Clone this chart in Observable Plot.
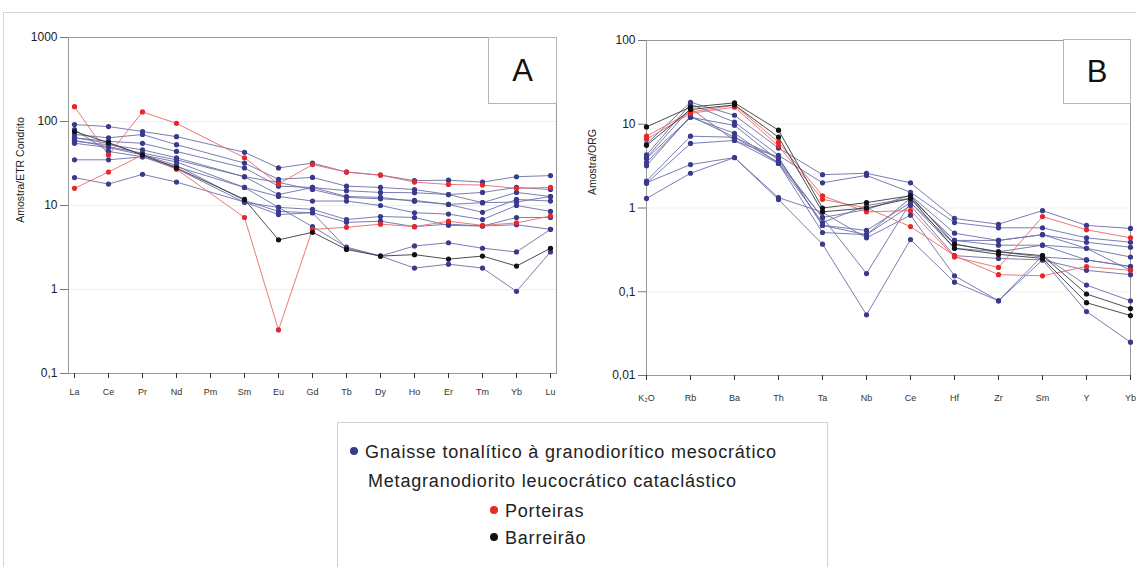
<!DOCTYPE html>
<html>
<head>
<meta charset="utf-8">
<script src="https://cdn.jsdelivr.net/npm/d3@7"></script>
<script src="https://cdn.jsdelivr.net/npm/@observablehq/plot@0.6"></script>
<style>
  html, body { margin: 0; padding: 0; background: #fff; }
  body { width: 1136px; height: 567px; position: relative; overflow: hidden; font-family: "Liberation Sans", Arial, sans-serif; }
  #frame { position: absolute; left: 3px; top: 12px; width: 1135px; height: 600px; border: 1px solid #d4d4d4; box-sizing: border-box; }
  .chart { position: absolute; top: 0; }
  .chart svg { font-family: "Liberation Sans", Arial, sans-serif; overflow: visible; }
  .panel { position: absolute; border: 1px solid #b5b5b5; background: #fff; font-size: 31px; color: #111; display: flex; align-items: center; justify-content: center; box-sizing: border-box; }
  .ylab { position: absolute; font-size: 10.5px; color: #222; transform: translate(-50%, -50%) rotate(-90deg); white-space: nowrap; }
  #legend { position: absolute; left: 337px; top: 422px; width: 491px; height: 160px; border: 1px solid #d0d0d0; box-sizing: border-box; color: #222; }
  .li { position: absolute; white-space: nowrap; font-size: 18px; letter-spacing: 0.8px; line-height: 20px; }
  .dot { display: inline-block; width: 8px; height: 8px; border-radius: 50%; margin-right: 7px; vertical-align: 3px; }
</style>
</head>
<body>
<div id="frame"></div>
<div id="chartA" class="chart" style="left:0px"></div>
<div id="chartB" class="chart" style="left:578px"></div>
<div class="panel" style="left:488px; top:37px; width:69px; height:67px;">A</div>
<div class="panel" style="left:1063px; top:39px; width:68px; height:65px;">B</div>
<div class="ylab" style="left:20px; top:170px;">Amostra/ETR Condrito</div>
<div class="ylab" style="left:592px; top:162px;">Amostra/ORG</div>
<div id="legend">
  <div class="li" style="left:12px; top:19px;"><span class="dot" style="background:#3a3a8c"></span>Gnaisse tonalítico à granodiorítico mesocrático</div>
  <div class="li" style="left:30px; top:48px;">Metagranodiorito leucocrático cataclástico</div>
  <div class="li" style="left:152px; top:78px;"><span class="dot" style="background:#e8272a"></span>Porteiras</div>
  <div class="li" style="left:152px; top:105px;"><span class="dot" style="background:#111"></span>Barreirão</div>
</div>
<script>
// ---------- Diagram A: REE normalised to chondrite ----------
const elementsA = ["La","Ce","Pr","Nd","Pm","Sm","Eu","Gd","Tb","Dy","Ho","Er","Tm","Yb","Lu"];
// Gnaisse tonalítico à granodiorítico mesocrático (null = not analysed)
const gnaisseA = [
  [92, 87, 76, 66, null, 43, 28, 32, 25, 23, 19.8, 20, 19, 22, 22.7],
  [70, 64, 70, 53, null, 32, 20.5, 21.6, 17, 16.4, 15.5, 13.5, 14.3, 16.4, 15.5],
  [64, 58, 55, 44, null, 28, 17, 16.4, 15, 14.3, 14.2, 13.5, 10.8, 14.3, 12.8],
  [58, 53, 46, 37, null, 22, 13.5, 16.4, 12.8, 12.5, 11.2, 10.3, 8.3, 11.8, 11.3],
  [60, 50, 42, 35, null, 22, 18.8, 15.5, 12.5, 12, 11.5, 10.3, 10.8, 11, 12.8],
  [55, 49, 40, 33, null, 16.4, 12.8, 11.3, 11.3, 10, 8.2, 7.9, 6.8, 10, 8.5],
  [35, 35, 38, 29, null, 16.4, 9.5, 9.0, 6.8, 7.4, 7.2, 5.8, 5.7, 7.2, 7.2],
  [21.5, 18, 23.5, 19, null, 11, 7.8, 8.2, 6.3, 6.5, 5.6, 6.0, 5.7, 5.9, 5.2],
  [80, 44, 38, 27.5, null, 10.9, 9.5, 5.6, 3.2, 2.5, 3.3, 3.6, 3.1, 2.8, 5.2],
  [64, 55, 40, 30, null, 11.5, 8.5, 8.2, 3.1, 2.5, 1.8, 2.0, 1.8, 0.95, 2.8]
];
// Metagranodiorito leucocrático cataclástico – Porteiras
const porteirasA = [
  [150, 40, 130, 95, null, 37, 18, 30.7, 25, 23, 19, 17.8, 17.5, 16, 16.4],
  [16, 25, 40, 27, null, 7.2, 0.33, 5.2, 5.5, 6.0, 5.6, 6.5, 5.8, 6.2, 7.5]
];
// Metagranodiorito leucocrático cataclástico – Barreirão
const barreiraoA = [
  [76, 56, 40, 28, null, 11.8, 3.9, 4.8, 3.0, 2.5, 2.6, 2.3, 2.5, 1.9, 3.1]
];
const ticksA = [0.1, 1, 10, 100, 1000];

// ---------- Diagram B: normalised to ORG ----------
const elementsB = ["K₂O","Rb","Ba","Th","Ta","Nb","Ce","Hf","Zr","Sm","Y","Yb"];
const gnaisseB = [
  [5.8, 18.3, 12.8, 5.2, 2.5, 2.6, 2.0, 0.75, 0.64, 0.93, 0.62, 0.57],
  [4.3, 17.4, 10.6, 4.25, 2.0, 2.45, 1.54, 0.67, 0.58, 0.58, 0.44, 0.39],
  [3.9, 12.1, 9.7, 3.7, 0.77, 0.96, 1.42, 0.5, 0.41, 0.48, 0.39, 0.34],
  [3.5, 12.1, 7.8, 3.4, 0.67, 1.07, 1.31, 0.41, 0.36, 0.36, 0.33, 0.26],
  [2.1, 7.2, 7.0, 4.0, 0.62, 0.54, 1.16, 0.33, 0.3, 0.26, 0.24, 0.2],
  [1.97, 5.9, 6.4, 3.4, 0.51, 0.48, 1.07, 0.27, 0.25, 0.24, 0.18, 0.16],
  [1.3, 2.6, 4.0, 1.33, 0.89, 0.44, 0.82, 0.155, 0.078, 0.27, 0.12, 0.078],
  [2.0, 3.3, 4.0, 1.26, 0.37, 0.053, 0.42, 0.13, 0.078, 0.24, 0.058, 0.025],
  [3.2, 12.5, 7.0, 3.5, 0.77, 0.165, 1.16, 0.37, 0.3, 0.36, 0.24, 0.2],
  [4.0, 15.5, 6.4, 4.0, 0.62, 0.48, 1.31, 0.41, 0.41, 0.48, 0.33, 0.18]
];
const porteirasB = [
  [7.2, 14, 16.9, 6.1, 1.4, 0.9, 0.93, 0.26, 0.195, 0.79, 0.55, 0.44],
  [6.6, 13.5, 16, 5.5, 1.27, 1.0, 0.6, 0.27, 0.16, 0.155, 0.2, 0.18]
];
const barreiraoB = [
  [9.3, 16, 18, 8.5, 1.0, 1.16, 1.4, 0.37, 0.3, 0.27, 0.094, 0.063],
  [5.6, 15, 17, 7.0, 0.9, 1.0, 1.3, 0.33, 0.28, 0.25, 0.074, 0.052]
];
const ticksB = [0.01, 0.1, 1, 10, 100];

// ---------- styles per group ----------
const groups = [
  {key: "Gnaisse", line: "#6b70a6", dot: "#3a3a8c"},
  {key: "Porteiras", line: "#e46a6a", dot: "#e8272a"},
  {key: "Barreirão", line: "#3a3a3a", dot: "#111111"}
];

function toRows(elements, sets) {
  const rows = [];
  sets.forEach(([group, arr]) => {
    arr.forEach((vals, i) => {
      vals.forEach((v, j) => {
        if (v != null) rows.push({group, sample: group + i, el: elements[j], v});
      });
    });
  });
  return rows;
}

const fmt = d => String(d).replace(".", ",");

function chart(elements, rows, yDomain, ticks, opts) {
  const marks = [
    Plot.ruleY(ticks, {stroke: "#efefef"}),
    Plot.frame({stroke: "#9a9a9a"}),
    Plot.axisY({ticks, tickFormat: fmt, tickSize: 8, tickPadding: 3, fontSize: 12, label: null, stroke: "#777", color: "#222"}),
    Plot.axisX({tickSize: 5, tickPadding: opts.xPad, fontSize: 9, label: null, color: "#333"})
  ];
  for (const g of groups) {
    const sub = rows.filter(r => r.group === g.key);
    marks.push(Plot.line(sub, {x: "el", y: "v", z: "sample", stroke: g.line, strokeWidth: 1, strokeOpacity: 0.9}));
  }
  for (const g of groups) {
    const sub = rows.filter(r => r.group === g.key);
    marks.push(Plot.dot(sub, {x: "el", y: "v", r: 2.6, fill: g.dot, stroke: "none"}));
  }
  return Plot.plot({
    width: opts.width, height: 410,
    marginLeft: 68, marginRight: opts.mr, marginTop: opts.mt, marginBottom: 410 - opts.bottom,
    style: {background: "transparent", color: "#222"},
    x: {type: "point", domain: elements, padding: 0},
    y: {type: "log", domain: yDomain},
    marks
  });
}

const rowsA = toRows(elementsA, [["Gnaisse", gnaisseA], ["Porteiras", porteirasA], ["Barreirão", barreiraoA]]);
const rowsB = toRows(elementsB, [["Gnaisse", gnaisseB], ["Porteiras", porteirasB], ["Barreirão", barreiraoB]]);

document.getElementById("chartA").append(chart(elementsA, rowsA, [0.1, 1000], ticksA, {width: 570, mr: 14, mt: 37, bottom: 373, xPad: 10}));
document.getElementById("chartB").append(chart(elementsB, rowsB, [0.01, 100], ticksB, {width: 558, mr: 6, mt: 40, bottom: 375, xPad: 14}));
</script>
</body>
</html>
